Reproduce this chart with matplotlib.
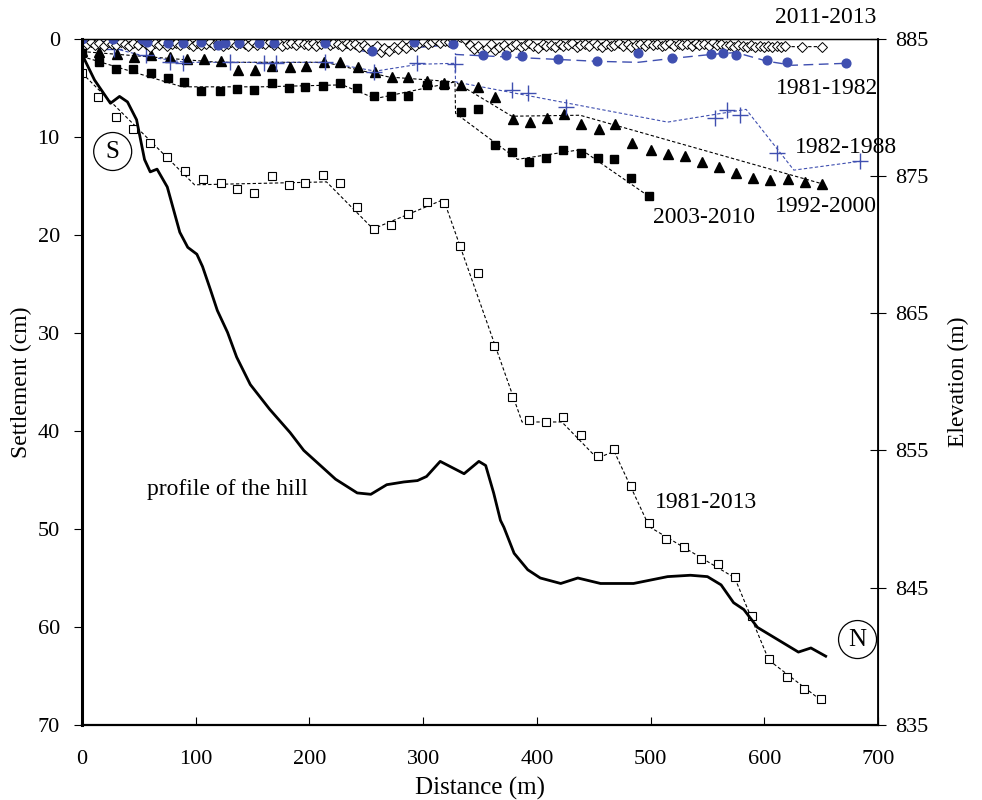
import matplotlib
matplotlib.use("Agg")
import matplotlib.pyplot as plt

plt.rcParams["font.family"] = ["Liberation Serif", "DejaVu Serif"]

BLUE = "#3f4fb0"

# ground profile (distance m, elevation m)
prof_d = [0, 1, 11, 25, 33, 40, 48, 55, 60, 66, 75, 78, 86, 93, 101, 106, 113,
          119, 128, 136, 148, 165, 183, 195, 207, 223, 242, 254, 268, 283, 295,
          303, 315, 336, 349, 355, 362, 368, 371, 380, 392, 403, 421, 436, 456,
          485, 515, 535, 550, 562, 573, 582, 594, 608, 630, 641, 654]
prof_e = [884.3, 883.7, 882.0, 880.3, 880.8, 880.4, 879.1, 876.2, 875.3, 875.5,
          874.2, 873.3, 870.9, 869.8, 869.3, 868.4, 866.7, 865.2, 863.6, 861.8,
          859.8, 858.0, 856.3, 855.0, 854.1, 852.9, 851.9, 851.8, 852.5, 852.7,
          852.8, 853.1, 854.2, 853.3, 854.2, 853.9, 851.9, 849.9, 849.4, 847.5,
          846.3, 845.7, 845.3, 845.7, 845.3, 845.3, 845.8, 845.9, 845.8, 845.2,
          843.9, 843.4, 842.1, 841.4, 840.3, 840.6, 840.0]

# 1981-2013 (open squares)
d8113 = [0, 14, 30, 45, 60, 75, 91, 106, 122, 136, 151, 167, 182, 196, 212,
         227, 242, 257, 272, 287, 303, 318, 332, 348, 362, 378, 393, 408, 423,
         439, 454, 468, 483, 499, 514, 529, 544, 559, 574, 589, 604, 620, 635, 650]
s8113 = [3.5, 5.9, 8.0, 9.2, 10.6, 12.1, 13.5, 14.3, 14.7, 15.3, 15.7, 14.0,
         14.9, 14.7, 13.9, 14.7, 17.2, 19.4, 19.0, 17.9, 16.7, 16.8, 21.1, 23.9,
         31.3, 36.6, 38.9, 39.1, 38.6, 40.4, 42.6, 41.9, 45.6, 49.4, 51.0, 51.9,
         53.1, 53.6, 54.9, 58.9, 63.3, 65.1, 66.3, 67.4]
l8113_d = [0, 99, 215, 256, 318, 387, 422, 453, 468, 499, 574, 604, 651]
l8113_s = [3.5, 14.9, 14.6, 19.4, 16.4, 39.1, 39.1, 42.8, 42.1, 49.8, 55.0, 63.4, 67.6]

# 2003-2010 (filled squares)
d0310 = [0, 15, 30, 45, 61, 76, 90, 105, 121, 136, 151, 167, 182, 196, 212,
         227, 242, 257, 272, 287, 303, 318, 333, 348, 363, 378, 393, 408, 423,
         439, 454, 468, 483, 499]
s0310 = [1.5, 2.4, 3.1, 3.1, 3.5, 4.0, 4.4, 5.3, 5.3, 5.1, 5.2, 4.5, 5.0, 4.9,
         4.8, 4.5, 5.0, 5.8, 5.8, 5.8, 4.7, 4.7, 7.5, 7.2, 10.8, 11.6, 12.6, 12.2,
         11.3, 11.7, 12.2, 12.3, 14.2, 16.0]
l0310_d = [0, 88, 157, 229, 258, 328, 328.5, 383, 439, 500]
l0310_s = [1.8, 4.9, 4.9, 4.7, 6.1, 4.4, 7.6, 12.3, 11.3, 16.2]

# 1992-2000 (filled triangles)
d9200 = [0, 15, 31, 46, 61, 77, 92, 107, 122, 137, 152, 167, 183, 197, 213,
         227, 243, 258, 273, 287, 303, 318, 333, 348, 363, 379, 394, 409, 424,
         439, 455, 469, 484, 500, 515, 530, 545, 560, 575, 590, 605, 621, 636, 651]
s9200 = [1.2, 1.3, 1.6, 1.9, 1.7, 1.9, 2.1, 2.1, 2.3, 3.2, 3.2, 2.8, 2.9, 2.8,
         2.4, 2.4, 2.9, 3.4, 3.9, 3.9, 4.3, 4.5, 4.7, 4.9, 5.9, 8.2, 8.5, 8.1,
         7.7, 8.7, 9.2, 8.7, 10.6, 11.3, 11.8, 12.0, 12.6, 13.1, 13.7, 14.2,
         14.4, 14.3, 14.6, 14.8]
l9200_d = [0, 120, 214, 270, 328, 378, 438, 651]
l9200_s = [1.3, 2.4, 2.4, 3.9, 4.4, 7.9, 7.8, 14.8]

# 1982-1988 (plus)
d8288 = [28, 56, 77, 89, 130, 160, 171, 214, 257, 295, 328, 378, 392, 426,
         557, 567, 579, 611, 684]
s8288 = [1.0, 1.7, 2.4, 2.5, 2.4, 2.5, 2.5, 2.4, 3.4, 2.5, 2.6, 5.2, 5.5, 7.0,
         8.1, 7.3, 7.8, 11.7, 12.5]
l8288_d = [0, 29, 56, 91, 215, 258, 296, 328, 328.5, 515, 584, 626, 684]
l8288_s = [0.3, 1.0, 1.8, 2.4, 2.4, 3.3, 2.6, 2.5, 4.4, 8.5, 7.2, 13.4, 12.5]

# 1981-1982 (filled circles)
d8182 = [0, 27, 53, 57, 76, 89, 105, 120, 126, 138, 156, 169, 214, 255, 292,
         326, 353, 373, 387, 419, 453, 489, 519, 553, 564, 575, 602, 620, 672]
s8182 = [0.0, 0.0, 0.0, 0.3, 0.4, 0.4, 0.3, 0.6, 0.4, 0.4, 0.4, 0.4, 0.4, 1.2,
         0.3, 0.5, 1.7, 1.7, 1.8, 2.1, 2.3, 1.5, 2.0, 1.6, 1.4, 1.7, 2.2, 2.4, 2.5]
l8182_d = [0, 40, 120, 227, 254, 293, 327, 328.5, 453, 489, 519, 553, 575, 603, 625, 672]
l8182_s = [0.0, 0.6, 0.5, 0.8, 1.4, 0.9, 0.6, 1.6, 2.3, 2.4, 2.0, 1.6, 1.4, 2.3, 2.7, 2.5]

# 2011-2013 (open diamonds)
d1113 = [0, 4, 8, 11, 15, 19, 23, 26, 30, 34,
         38, 41, 45, 49, 53, 56, 60, 64, 68, 71,
         75, 79, 83, 86, 90, 94, 98, 101, 105, 109,
         113, 116, 120, 124, 128, 131, 135, 139, 143, 146,
         150, 154, 158, 161, 165, 169, 173, 176, 180, 184,
         188, 191, 195, 199, 203, 206, 210, 214, 218, 221,
         225, 229, 233, 236, 240, 244, 248, 251, 255, 259,
         263, 266, 270, 274, 278, 281, 285, 289, 293, 296,
         300, 304, 308, 311, 315, 319, 323, 326, 337, 341,
         345, 348, 352, 356, 360, 363, 367, 371, 375, 378,
         382, 386, 390, 393, 397, 401, 405, 408, 412, 416,
         420, 423, 427, 431, 435, 438, 442, 446, 450, 453,
         457, 461, 465, 468, 472, 476, 480, 483, 487, 491,
         495, 498, 502, 506, 510, 513, 517, 521, 525, 528,
         532, 536, 540, 543, 547, 551, 555, 558, 562, 566,
         570, 573, 577, 581, 585, 588, 592, 596, 600, 603,
         607, 611, 615, 618, 633, 651]
s1113 = [0.1, 0.5, 0.3, 0.6, 0.4, 0.7, 0.3, 0.5, 0.6, 0.3,
         0.5, 0.7, 0.4, 0.6, 0.2, 0.5, 0.8, 0.4, 0.6, 0.3,
         0.7, 0.5, 0.4, 0.6, 0.3, 0.5, 0.7, 0.4, 0.6, 0.5,
         0.3, 0.6, 0.4, 0.7, 0.5, 0.3, 0.6, 0.4, 0.5, 0.7,
         0.3, 0.6, 0.4, 0.5, 0.3, 0.6, 0.4, 0.7, 0.5, 0.4,
         0.6, 0.3, 0.5, 0.6, 0.4, 0.7, 0.5, 0.3, 0.6, 0.4,
         0.5, 0.7, 0.4, 0.6, 0.5, 0.8, 0.6, 0.9, 1.1, 0.7,
         1.3, 0.9, 1.2, 0.8, 1.0, 0.6, 0.9, 0.5, 0.7, 0.4,
         0.2, 0.5, 0.3, 0.1, 0.4, 0.2, 0.3, 0.1, 0.0, 0.6,
         1.0, 0.7, 1.2, 0.9, 0.5, 1.1, 0.8, 0.6, 1.0, 0.7,
         0.5, 0.8, 0.6, 0.4, 0.7, 0.9, 0.5, 0.7, 0.6, 0.8,
         0.5, 0.7, 0.6, 0.4, 0.8, 0.6, 0.5, 0.7, 0.3, 0.6,
         0.8, 0.5, 0.7, 0.6, 0.4, 0.7, 0.5, 0.8, 0.6, 0.5,
         0.7, 0.4, 0.6, 0.5, 0.7, 0.6, 0.4, 0.7, 0.5, 0.6,
         0.5, 0.7, 0.4, 0.6, 0.5, 0.7, 0.3, 0.6, 0.5, 0.7,
         0.6, 0.8, 0.6, 0.7, 0.8, 0.6, 0.8, 0.7, 0.8, 0.7,
         0.8, 0.7, 0.8, 0.7, 0.8, 0.8]
l1113_d = [0, 230, 265, 300, 330, 345, 651]
l1113_s = [0.4, 0.5, 0.9, 0.3, 0.2, 0.8, 0.8]

fig = plt.figure(figsize=(9.82, 8.0), dpi=100)
ax = fig.add_axes([0.0835, 0.094, 0.8106, 0.8575])
ax2 = ax.twinx()

dash = dict(color="black", lw=0.8, dashes=(3, 2))
ax.plot(l8113_d, l8113_s, **dash)
ax.plot(l0310_d, l0310_s, **dash)
ax.plot(l9200_d, l9200_s, **dash)
ax.plot(l1113_d, l1113_s, **dash)
ax.plot(l8288_d, l8288_s, color=BLUE, lw=0.8, dashes=(3, 2))
ax.plot(l8182_d, l8182_s, color=BLUE, lw=1.0, dashes=(7, 4))

ax.plot(d8113, s8113, ls="none", marker="s", ms=6, mfc="white", mec="black", mew=0.8)
ax.plot(d0310, s0310, ls="none", marker="s", ms=6.3, color="black")
ax.plot(d9200, s9200, ls="none", marker="^", ms=7.5, color="black")
ax.plot(d8288, s8288, ls="none", marker="+", ms=11, mew=1.0, color=BLUE)
ax.plot(d1113, s1113, ls="none", marker="D", ms=5.3, mfc="white", mec="black", mew=0.7)
ax.plot(d8182, s8182, ls="none", marker="o", ms=6.3, color=BLUE)

ax2.plot(prof_d, prof_e, color="black", lw=2)

ax.set_xlim(0, 700)
ax.set_ylim(70, 0)
ax2.set_ylim(835, 885)
ax.set_xticks(range(0, 701, 100))
ax.set_yticks(range(0, 71, 10))
ax2.set_yticks(range(835, 886, 10))

ax.tick_params(axis="x", direction="in", length=6, pad=18, labelsize=16)
ax.tick_params(axis="y", direction="out", length=6, pad=10, labelsize=16)
ax2.tick_params(axis="y", direction="inout", length=12, pad=6, labelsize=16)

ax.spines["left"].set_linewidth(2.2)
ax.spines["bottom"].set_linewidth(1.6)
ax2.spines["right"].set_linewidth(1.3)
ax2.spines["top"].set_linewidth(1.0)
ax2.spines["left"].set_visible(False)
ax2.spines["bottom"].set_visible(False)

ax.set_xlabel("Distance (m)", fontsize=18, labelpad=6)
ax.set_ylabel("Settlement (cm)", fontsize=17, labelpad=4)
ax2.set_ylabel("Elevation (m)", fontsize=17, labelpad=14)

tk = dict(fontsize=17, ha="center", va="center")
ax.text(654, -2.2, "2011-2013", clip_on=False, **tk)
ax.text(655, 5.1, "1981-1982", **tk)
ax.text(672, 11.1, "1982-1988", **tk)
ax.text(654, 17.1, "1992-2000", **tk)
ax.text(547, 18.2, "2003-2010", **tk)
ax.text(549, 47.3, "1981-2013", **tk)
ax.text(128, 46.0, "profile of the hill", **tk)

circ = dict(boxstyle="circle,pad=0.32", fc="white", ec="black", lw=0.9)
ax.text(27, 11.5, "S", fontsize=18, ha="center", va="center", bbox=circ)
ax.text(682, 61.3, "N", fontsize=18, ha="center", va="center", bbox=circ)

fig.savefig("out.png", dpi=100)
